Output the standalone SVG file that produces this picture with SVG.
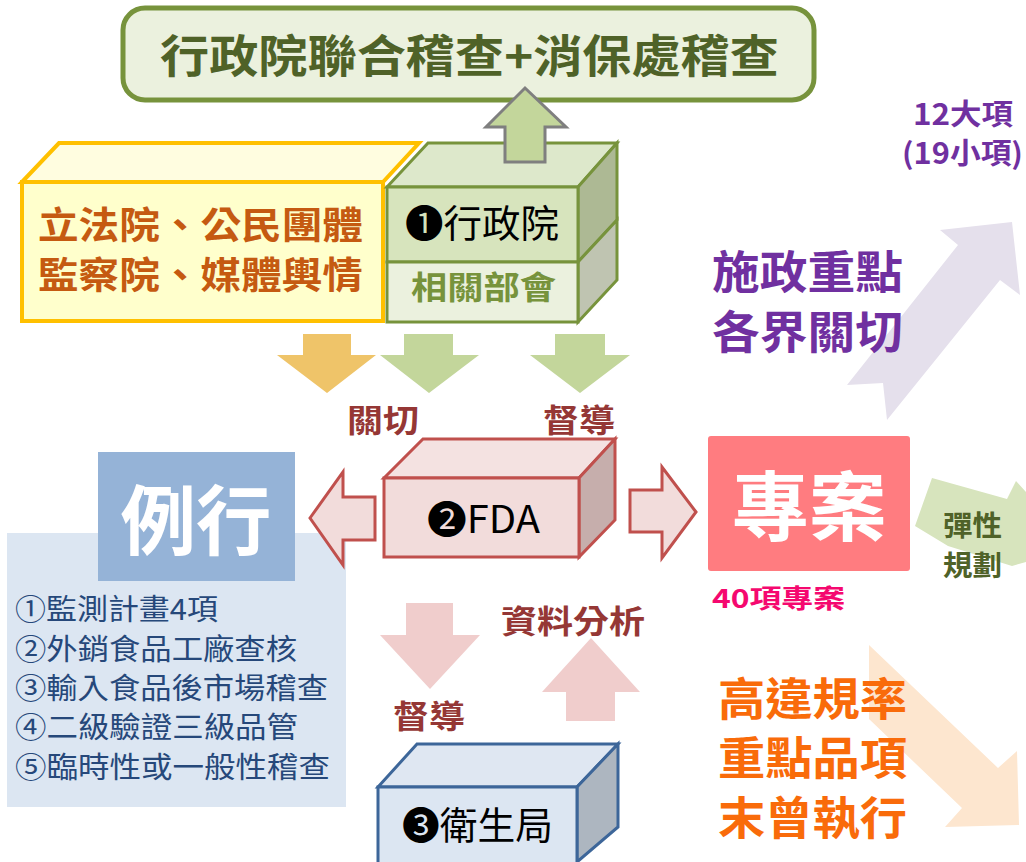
<svg xmlns="http://www.w3.org/2000/svg" width="1026" height="862" viewBox="0 0 1026 862">
<style>
text{font-family:"Noto Sans CJK TC","Noto Sans CJK SC","DejaVu Sans",sans-serif;}
.bd{font-weight:700}
.g{stroke:#77933c;stroke-width:3;stroke-linejoin:miter}
.r{stroke:#c0504d;stroke-width:3}
.b{stroke:#3d6699;stroke-width:3}
.red{fill:#953735;font-size:32px;font-weight:700}
.pur{fill:#7030a0;font-weight:700}
.org{fill:#f96b0a;font-size:45px;font-weight:700}
.lst{fill:#26487a;font-size:29px}
</style>
<rect width="1026" height="862" fill="#ffffff"/>
<g id="connectors">
<polygon points="847,385 958,245 940,230 1012,222 1020,295 1000,280 887,420 883,383" fill="#e5e0ec"/>
<polygon points="869,645 998,768 1017,751 1019,825 945,827 962,808 869,719" fill="#fde6cf"/>
<polygon points="915,526 932,478 1007,499 1016,481 1026,492 1026,562 1012,566 948,546" fill="#d7e4bd"/>
<polygon points="303,334 351,334 351,355 376,355 327,393 277,355 303,355" fill="#efc469"/>
<polygon points="404,334 453,334 453,355 479,355 429,393 380,355 404,355" fill="#c3d69b"/>
<polygon points="555,334 605,334 605,355 630,355 580,393 530,355 555,355" fill="#c3d69b"/>
<polygon points="406,603 453,603 453,635 480,635 430,689 380,635 406,635" fill="#f0cdcc"/>
<polygon points="591,638 640,692 615,692 615,721 566,721 566,692 542,692" fill="#f0cdcc"/>
</g>
<g id="top-box">
<rect x="123" y="8" width="691" height="92" rx="22" fill="#ebf1de" stroke="#77933c" stroke-width="5"/>
<text class="bd" x="160" y="73" font-size="45" fill="#4f6228" textLength="619" lengthAdjust="spacingAndGlyphs">行政院聯合稽查+消保處稽查</text>
</g>
<g id="legislature">
<polygon points="22,182 59,143 419,143 383,182" fill="#fffde0" stroke="#ffc000" stroke-width="4"/>
<rect x="22" y="182" width="361" height="139" fill="#ffffcc" stroke="#ffc000" stroke-width="4"/>
<text class="bd" x="38" y="239" font-size="37" fill="#c55a11" textLength="325" lengthAdjust="spacingAndGlyphs">立法院、公民團體</text>
<text class="bd" x="38" y="289" font-size="37" fill="#c55a11" textLength="325" lengthAdjust="spacingAndGlyphs">監察院、媒體輿情</text>
</g>
<g id="executive">
<polygon class="g" points="387,187 428,143 617,143 578,187" fill="#dde8cb"/>
<polygon class="g" points="578,187 617,143 617,220 578,262" fill="#adb994"/>
<polygon class="g" points="578,262 617,220 617,280 578,322" fill="#bfc4b1"/>
<rect class="g" x="387" y="187" width="191" height="75" fill="#d7e4bd"/>
<rect class="g" x="387" y="262" width="191" height="60" fill="#ebf1de"/>
<text x="405" y="237" font-size="38" fill="#000" textLength="154" lengthAdjust="spacingAndGlyphs">❶行政院</text>
<text class="bd" x="411" y="299" font-size="32" fill="#77933c" textLength="145" lengthAdjust="spacingAndGlyphs">相關部會</text>
</g>
<polygon points="525,88 566,127 545,127 545,162 505,162 505,127 486,127" fill="#c3d69b" stroke="#7f7f7f" stroke-width="3"/>
<g id="labels-upper">
<text class="red" x="347" y="432" textLength="72" lengthAdjust="spacingAndGlyphs">關切</text>
<text class="red" x="543" y="432" textLength="72" lengthAdjust="spacingAndGlyphs">督導</text>
<text class="pur" x="913" y="125" font-size="29" textLength="100" lengthAdjust="spacingAndGlyphs">12大項</text>
<text class="pur" x="902" y="164" font-size="29" textLength="121" lengthAdjust="spacingAndGlyphs">(19小項)</text>
<text class="pur" x="712" y="289" font-size="45" textLength="191" lengthAdjust="spacingAndGlyphs">施政重點</text>
<text class="pur" x="712" y="349" font-size="45" textLength="191" lengthAdjust="spacingAndGlyphs">各界關切</text>
</g>
<g id="routine-list">
<rect x="7" y="533" width="339" height="274" fill="#dce6f2"/>
<text class="lst" x="15" y="620" textLength="203" lengthAdjust="spacingAndGlyphs">①監測計畫4項</text>
<text class="lst" x="15" y="660" textLength="282" lengthAdjust="spacingAndGlyphs">②外銷食品工廠查核</text>
<text class="lst" x="15" y="699" textLength="313" lengthAdjust="spacingAndGlyphs">③輸入食品後市場稽查</text>
<text class="lst" x="15" y="738" textLength="283" lengthAdjust="spacingAndGlyphs">④二級驗證三級品管</text>
<text class="lst" x="15" y="778" textLength="315" lengthAdjust="spacingAndGlyphs">⑤臨時性或一般性稽查</text>
</g>
<g id="routine">
<rect x="98" y="452" width="197" height="129" fill="#95b3d7"/>
<text class="bd" x="196" y="549" font-size="76" fill="#ffffff" text-anchor="middle" textLength="151" lengthAdjust="spacingAndGlyphs">例行</text>
</g>
<g id="fda-arrows">
<polygon class="r" points="310,518 343,472 343,497 375,497 375,540 343,540 343,565" fill="#f2dcdb"/>
<polygon class="r" points="696,512 662,467 662,490 630,490 630,532 662,532 662,558" fill="#f2dcdb"/>
</g>
<g id="fda">
<polygon class="r" points="384,478 423,439 615,439 579,478" fill="#f4e2e1"/>
<polygon class="r" points="579,478 615,439 615,520 579,557" fill="#c6aeac"/>
<rect class="r" x="384" y="478" width="195" height="79" fill="#f2dcdb"/>
<text x="427" y="533" font-size="38" fill="#000" textLength="113" lengthAdjust="spacingAndGlyphs">❷FDA</text>
</g>
<g id="project">
<rect x="708" y="436" width="202" height="135" rx="3" fill="#ff7c80"/>
<text class="bd" x="809" y="535" font-size="76" fill="#ffffff" text-anchor="middle" textLength="155" lengthAdjust="spacingAndGlyphs">專案</text>
<text class="bd" x="712" y="608" font-size="26" fill="#f5086f" textLength="133" lengthAdjust="spacingAndGlyphs">40項專案</text>
</g>
<g id="flex">
<text class="bd" x="943" y="536" font-size="28" fill="#4f6228" textLength="59" lengthAdjust="spacingAndGlyphs">彈性</text>
<text class="bd" x="943" y="576" font-size="28" fill="#4f6228" textLength="59" lengthAdjust="spacingAndGlyphs">規劃</text>
</g>
<g id="labels-lower">
<text class="red" x="501" y="633" textLength="144" lengthAdjust="spacingAndGlyphs">資料分析</text>
<text class="red" x="393" y="728" textLength="72" lengthAdjust="spacingAndGlyphs">督導</text>
</g>
<g id="health-bureau">
<polygon class="b" points="378,787 417,744 618,744 577,787" fill="#dfe7f2"/>
<polygon class="b" points="577,787 618,744 618,827 577,862" fill="#adb6c0"/>
<rect class="b" x="378" y="787" width="199" height="80" fill="#dce6f2"/>
<text x="402" y="839" font-size="38" fill="#000" textLength="151" lengthAdjust="spacingAndGlyphs">❸衛生局</text>
</g>
<g id="criteria">
<text class="org" x="718" y="716" textLength="189" lengthAdjust="spacingAndGlyphs">高違規率</text>
<text class="org" x="718" y="775" textLength="189" lengthAdjust="spacingAndGlyphs">重點品項</text>
<text class="org" x="718" y="835" textLength="189" lengthAdjust="spacingAndGlyphs">末曾執行</text>
</g>
</svg>
